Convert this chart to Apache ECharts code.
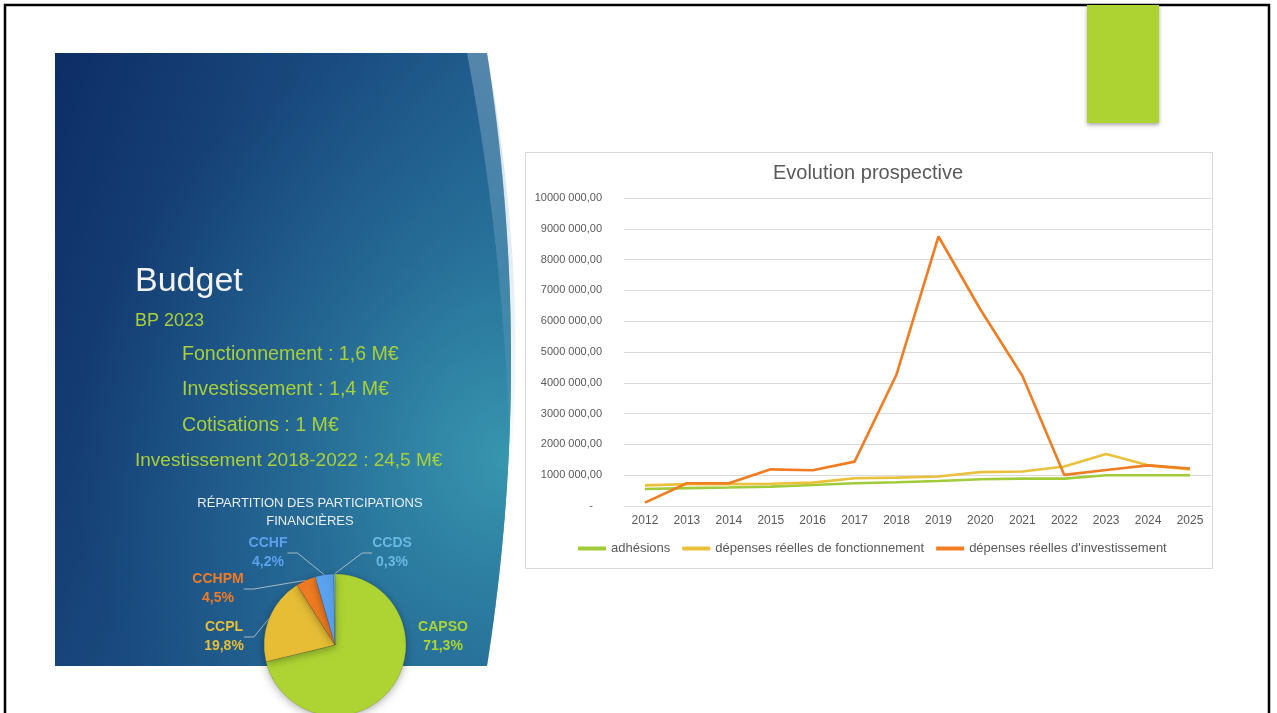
<!DOCTYPE html>
<html><head><meta charset="utf-8">
<script src="https://cdn.jsdelivr.net/npm/echarts@6/dist/echarts.min.js"></script>
<style>html,body{margin:0;padding:0;background:#fff;}#c{width:1277px;height:713px;}</style>
</head><body><div id="c"></div>
<script>
// ---- data ----
const years = ['2012','2013','2014','2015','2016','2017','2018','2019','2020','2021','2022','2023','2024','2025'];
const adhesions      = [550000, 580000, 600000, 630000, 680000, 740000, 770000, 810000, 870000, 890000, 890000, 1000000, 1000000, 1000000];
const fonctionnement = [670000, 710000, 710000, 720000, 760000, 900000, 920000, 960000, 1100000, 1120000, 1280000, 1690000, 1320000, 1190000];
const investissement = [110000, 740000, 740000, 1190000, 1160000, 1440000, 4270000, 8750000, 6380000, 4230000, 1010000, 1170000, 1320000, 1220000];
const lineNames = ['adhésions', 'dépenses réelles de fonctionnement', "dépenses réelles d'investissement"];
const pieNames  = ['CAPSO', 'CCPL', 'CCHPM', 'CCHF', 'CCDS'];
const pieValues = [71.3, 19.8, 4.5, 4.2, 0.3];
const panelTitle = 'Budget';
const panelLines = ['BP 2023', 'Fonctionnement : 1,6 M€', 'Investissement : 1,4 M€', 'Cotisations : 1 M€', 'Investissement 2018-2022 : 24,5 M€'];
const pieTitleLines = ['RÉPARTITION DES PARTICIPATIONS', 'FINANCIÈRES'];

// ---- styles ----
const lineColors = ['#A2CB3A', '#EBC03D', '#F07C23'];
const pieColors  = ['#ADD433', '#E6BD35', '#EE7A22', '#5BA2EF', '#5DB3E3'];
const pieLabelColors = ['#ADD433', '#E8BF36', '#EE7B25', '#5BA1EE', '#6BB7E4'];
const pieLabelPos = [[443, 637], [224, 637], [218, 589], [268, 553], [392, 553]];
const FONT = '"Liberation Sans", Arial, sans-serif';
const GREEN_TXT = '#AACF38';

function quad(p0, c, p1, n) {
  const pts = [];
  for (let i = 0; i <= n; i++) {
    const t = i / n, a = (1 - t) * (1 - t), b = 2 * t * (1 - t), d = t * t;
    pts.push([a * p0[0] + b * c[0] + d * p1[0], a * p0[1] + b * c[1] + d * p1[1]]);
  }
  return pts;
}
const panelPts = [[55, 53]].concat(quad([487, 53], [535, 360], [487, 666], 60)).concat([[55, 666]]);
const stripePts = [[467, 53]].concat(quad([487, 53], [528, 280], [510, 470], 40)).concat(quad([510, 470], [506, 260], [467, 53], 40).slice(1));

const chart = echarts.init(document.getElementById('c'), null, {renderer: 'canvas'});

const txt = (x, y, text, fill, size, align) => ({type: 'text', x: x, y: y, z: 1,
  style: {text: text, fill: fill, font: size + 'px ' + FONT, textAlign: align || 'left', textVerticalAlign: 'middle'}});

const panelTextEls = [
  txt(135, 282, panelTitle, '#F2F2F2', 34),
  txt(135, 321, panelLines[0], GREEN_TXT, 18),
  txt(182, 355, panelLines[1], GREEN_TXT, 19.6),
  txt(182, 390, panelLines[2], GREEN_TXT, 19.6),
  txt(182, 426, panelLines[3], GREEN_TXT, 19.6),
  txt(135, 461, panelLines[4], GREEN_TXT, 19),
  txt(310, 503, pieTitleLines[0], '#E9EEF3', 13, 'center'),
  txt(310, 521, pieTitleLines[1], '#E9EEF3', 13, 'center')
];

const option = {
  animation: false,
  backgroundColor: '#ffffff',
  graphic: [
    {type: 'polyline', z: 0, shape: {points: [[5, 713], [5, 5], [1269, 5], [1269, 713]]}, style: {stroke: '#000', lineWidth: 2.5, fill: null}},
    {type: 'rect', z: 0, shape: {x: 1087, y: 5, width: 72, height: 118}, style: {fill: '#ADD333', shadowBlur: 4, shadowOffsetY: 2, shadowColor: 'rgba(0,0,0,0.35)'}},
    {type: 'polygon', z: 0, shape: {points: panelPts},
      style: {fill: new echarts.graphic.LinearGradient(0, 0, 1, 0.25, [
        {offset: 0, color: '#0D2D65'}, {offset: 0.55, color: '#1A4B80'}, {offset: 1, color: '#226392'}])}},
    {type: 'polygon', z: 0, shape: {points: panelPts},
      style: {fill: new echarts.graphic.RadialGradient(1.0, 0.66, 0.95, [
        {offset: 0, color: 'rgba(60,160,180,0.85)'}, {offset: 0.5, color: 'rgba(50,140,170,0.35)'}, {offset: 1, color: 'rgba(40,120,160,0)'}])}},
    {type: 'polygon', z: 0, shape: {points: stripePts},
      style: {fill: new echarts.graphic.LinearGradient(0, 0, 0, 1, [
        {offset: 0, color: 'rgba(150,185,210,0.45)'}, {offset: 1, color: 'rgba(150,185,210,0.05)'}])}},
    {type: 'rect', z: 0, shape: {x: 525.5, y: 152.5, width: 687, height: 416}, style: {fill: null, stroke: '#D9D9D9', lineWidth: 1}},
    txt(868, 173, 'Evolution prospective', '#595959', 20, 'center')
  ].concat(panelTextEls),
  grid: {left: 624, right: 66, top: 198, bottom: 207, containLabel: false},
  xAxis: {
    type: 'category', data: years, boundaryGap: true,
    axisLine: {lineStyle: {color: '#D9D9D9'}}, axisTick: {show: false},
    axisLabel: {color: '#595959', fontSize: 12, fontFamily: FONT, margin: 9}
  },
  yAxis: {
    type: 'value', min: 0, max: 10000000, interval: 1000000,
    axisLine: {show: false}, axisTick: {show: false},
    splitLine: {lineStyle: {color: '#D9D9D9'}},
    axisLabel: {color: '#595959', fontSize: 11, fontFamily: FONT, margin: 22,
      formatter: v => v === 0 ? '-   ' : (v / 1000) + ' 000,00'}
  },
  legend: {
    left: 578, top: 542, padding: 0, itemWidth: 28, itemHeight: 4, itemGap: 12, icon: 'rect',
    textStyle: {color: '#595959', fontSize: 13, fontFamily: FONT},
    data: lineNames
  },
  series: [
    {name: lineNames[0], type: 'line', data: adhesions, symbol: 'none', lineStyle: {width: 2.6, color: lineColors[0]}, itemStyle: {color: lineColors[0]}, z: 3},
    {name: lineNames[1], type: 'line', data: fonctionnement, symbol: 'none', lineStyle: {width: 2.6, color: lineColors[1]}, itemStyle: {color: lineColors[1]}, z: 3},
    {name: lineNames[2], type: 'line', data: investissement, symbol: 'none', lineStyle: {width: 2.6, color: lineColors[2]}, itemStyle: {color: lineColors[2]}, z: 4},
    {
      type: 'pie', center: [335, 645], radius: 71, startAngle: 90, clockwise: true,
      avoidLabelOverlap: false, z: 5,
      itemStyle: {borderColor: 'rgba(60,60,60,0.35)', borderWidth: 0.5, shadowBlur: 8, shadowOffsetY: 2, shadowColor: 'rgba(0,0,0,0.3)'},
      label: {
        show: true, position: 'outside', fontFamily: FONT, fontWeight: 'bold', fontSize: 14, lineHeight: 19, align: 'center',
        formatter: p => p.name + '\n' + p.value.toFixed(1).replace('.', ',') + '%'
      },
      labelLine: {show: true, length: 10, length2: 10, lineStyle: {color: 'rgba(200,205,210,0.8)', width: 1}},
      labelLayout: function (params) {
        const p = pieLabelPos[params.dataIndex];
        return {x: p[0], y: p[1], align: 'center', verticalAlign: 'middle'};
      },
      data: pieNames.map((n, i) => ({
        name: n, value: pieValues[i],
        itemStyle: {color: pieColors[i]},
        label: {color: pieLabelColors[i]},
        labelLine: {show: i !== 0}
      }))
    }
  ]
};
chart.setOption(option);
</script>
</body></html>
